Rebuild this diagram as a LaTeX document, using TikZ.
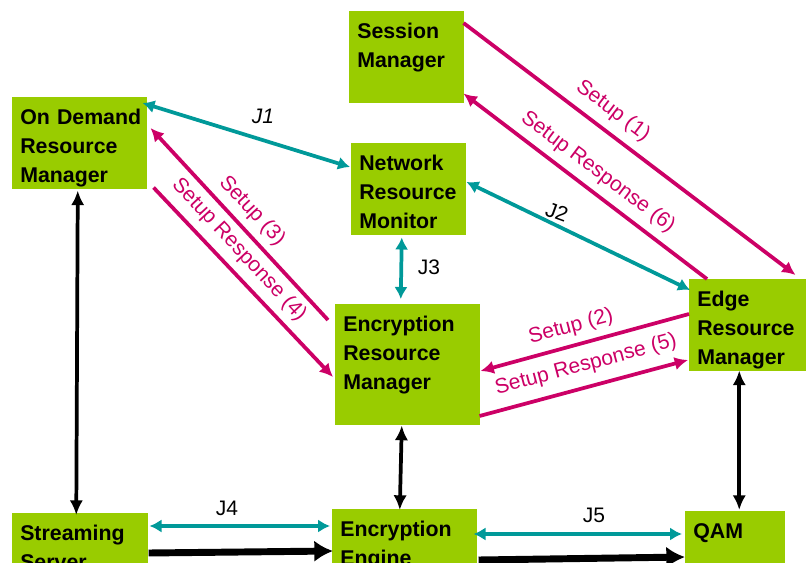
\documentclass[tikz,border=0pt]{standalone}
\usepackage{fontspec}
\setmainfont{Liberation Sans}
\usetikzlibrary{arrows.meta, calc}
\definecolor{boxgreen}{HTML}{99CC00}
\definecolor{setupred}{HTML}{CC0066}
\definecolor{jteal}{HTML}{009999}

\tikzset{
  box/.style={fill=boxgreen, anchor=north west, inner xsep=6pt, inner ysep=0pt,
    align=left, text height=20.25pt, font=\bfseries\fontsize{16pt}{21.75pt}\selectfont},
  lbl/.style={font=\fontsize{15.75pt}{18pt}\selectfont, inner sep=1pt},
  msg/.style={lbl, text=setupred},
  setup/.style={setupred, line width=2.8pt, -{Latex[length=10pt,width=10pt]}},
  iface/.style={jteal, line width=2.8pt, {Latex[length=9pt,width=10pt]}-{Latex[length=9pt,width=10pt]}},
  link/.style={black, line width=2.8pt, {Latex[length=11pt,width=10pt]}-{Latex[length=11pt,width=10pt]}},
  media/.style={black, line width=5.2pt, -{Latex[length=14pt,width=16pt]}}
}

\begin{document}
\begin{tikzpicture}[x=0.75pt, y=-0.75pt]
  \useasboundingbox (0,0) rectangle (806,563);
  \clip (0,0) rectangle (806,563);

  % boxes
  \node[box, text width=74.25pt, text depth=48.75pt] (sm) at (349,11) {Session\\Manager};
  \node[box, text width=89.25pt, text depth=48.75pt] (odrm) at (12,97) {\mbox{On Demand}\\Resource\\Manager};
  \node[box, text width=74.25pt, text depth=48.75pt] (nrm) at (351,143) {Network\\Resource\\Monitor};
  \node[box, text width=96.75pt, text depth=70.5pt] (encrm) at (335,304) {Encryption\\Resource\\Manager};
  \node[box, text width=76.5pt, text depth=48.75pt] (erm) at (689,279) {Edge\\Resource\\Manager};
  \node[box, text width=90pt, text depth=32.25pt] (ss) at (12,513) {Streaming\\Server};
  \node[box, text width=96.75pt, text depth=32.25pt] (ee) at (332,509) {Encryption\\Engine};
  \node[box, text width=63pt, text depth=32.25pt] (qam) at (685,511) {QAM};

  % interfaces
  \draw[iface] ($(odrm.north east)+(-5,6)$) -- ($(nrm.north west)+(-1,24)$);
  \draw[iface] ($(nrm.north east)+(0,39)$) -- ($(erm.north west)+(1,11)$);
  \draw[iface] ($(nrm.south)+(-7,2)$) -- ($(encrm.north)+(-7,-5)$);
  \draw[iface] ($(ss.north east)+(1,13)$) -- ($(ee.north west)+(-2,17)$);
  \draw[iface] ($(ee.north east)+(-4,25)$) -- ($(qam.north west)+(-3,23)$);
  \node[lbl, font=\itshape\fontsize{15.75pt}{18pt}\selectfont] (j1) at (263,116) {J1};
  \node[lbl, rotate=-20] (j2) at (557,212) {J2};
  \node[lbl] (j3) at (429,267) {J3};
  \node[lbl] (j4) at (227,508) {J4};
  \node[lbl] (j5) at (594,515) {J5};

  % setup messages
  \draw[setup] ($(sm.north east)+(-1,12)$) -- ($(erm.north east)+(-12,-4)$);
  \draw[setup] ($(erm.north west)+(18,0)$) -- ($(sm.south east)+(-1,-10)$);
  \draw[setup] ($(encrm.north west)+(-7,16)$) -- ($(odrm.north east)+(3,31)$);
  \draw[setup] ($(odrm.south east)+(6,-2)$) -- ($(encrm.north west)+(-2,73)$);
  \draw[setup] ($(erm.north west)+(0,35)$) -- ($(encrm.north east)+(0,67)$);
  \draw[setup] ($(encrm.north east)+(-1,112)$) -- ($(erm.north west)+(-1,81)$);
  \node[msg, rotate=-37] (s1) at (613,111) {Setup (1)};
  \node[msg, rotate=-37] (s6) at (598,172) {Setup Response (6)};
  \node[msg, rotate=-47] (s3) at (252,211) {Setup (3)};
  \node[msg, rotate=-47] (s4) at (239,250) {Setup Response (4)};
  \node[msg, rotate=15] (s2) at (571,327) {Setup (2)};
  \node[msg, rotate=15] (s5) at (586,365) {Setup Response (5)};

  % control links
  \draw[link] ($(odrm.south)+(-2,1)$) -- ($(ss.north)+(-4,2)$);
  \draw[link] ($(encrm.south)+(-6,0)$) -- ($(ee.north)+(-5,1)$);
  \draw[link] ($(erm.south)+(-9,-1)$) -- ($(qam.north)+(4,-1)$);

  % media flow
  \draw[media] ($(ss.north east)+(0,40)$) -- ($(ee.north west)+(1,42)$);
  \draw[media] ($(ee.north east)+(1,51)$) -- ($(qam.north west)+(0,46)$);
\end{tikzpicture}
\end{document}
